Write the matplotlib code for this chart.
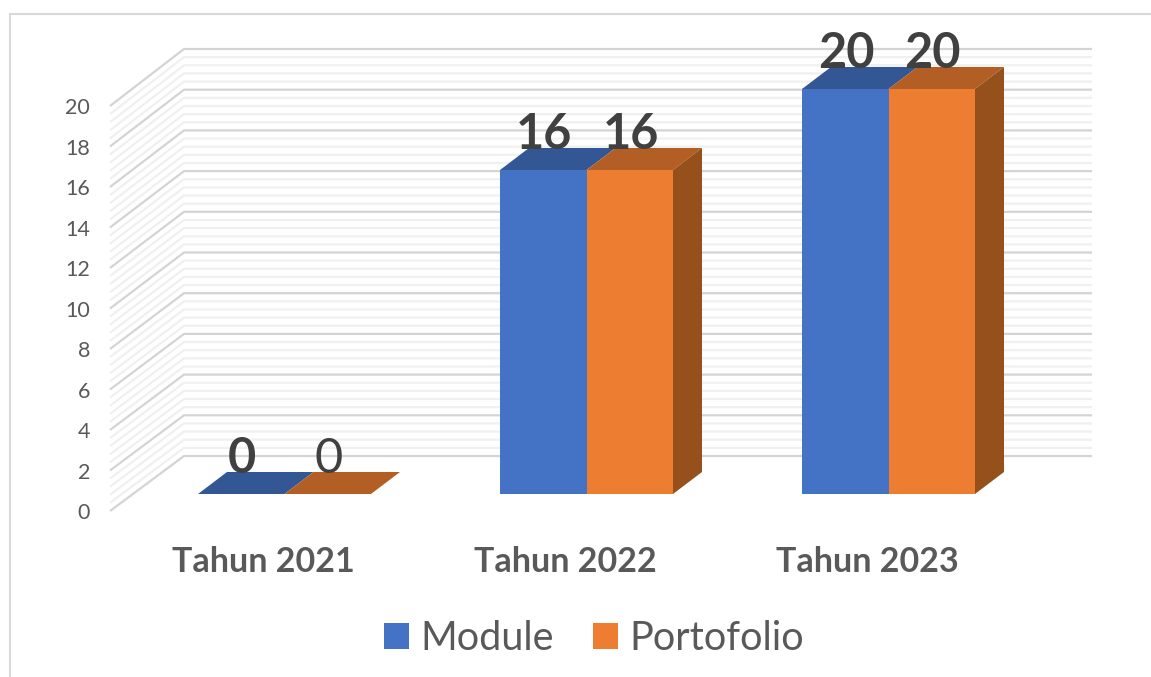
import matplotlib
matplotlib.use('Agg')
import matplotlib.pyplot as plt
import numpy as np
from matplotlib.patches import Patch, Polygon, Rectangle

categories = ['Tahun 2021', 'Tahun 2022', 'Tahun 2023']
module = [0, 16, 20]
portofolio = [0, 16, 20]
y_ticks = [0, 2, 4, 6, 8, 10, 12, 14, 16, 18, 20]

W, H = 1151, 677
PX_X = 302.0    # pixels per category
PX_Y = 20.25    # pixels per unit
X0 = 284.5      # pixel x of category 0
bar_w = 86.5 / PX_X
box_dx, box_dy = 74 / PX_X, 55 / PX_Y    # full depth of the chart box
bar_dx, bar_dy = 29 / PX_X, 22 / PX_Y    # depth of one bar
front_x, front_y = (110 - X0) / PX_X, -17 / PX_Y    # front left corner of the floor
right_x = (1092 - X0) / PX_X
back_scale = 20.35 / PX_Y    # back wall comes out slightly taller

plt.rcParams['font.family'] = ['Lato', 'DejaVu Sans']
fig = plt.figure(figsize=(W / 100, H / 100), dpi=100)
ax = fig.add_axes([0, 0, 1, 1])
# category 0 sits at pixel x X0, value 0 at pixel y 494
ax.set_xlim(-X0 / PX_X, (W - X0) / PX_X)
ax.set_ylim(-(H - 494) / PX_Y, 494 / PX_Y)
ax.axis('off')

# outer border, left and top only
border_x = (10 - X0) / PX_X
border_y = (494 - 14) / PX_Y
ax.plot([border_x, border_x], [ax.get_ylim()[0], border_y], color='#d9d9d9', lw=1.5)
ax.plot([border_x, ax.get_xlim()[1]], [border_y, border_y], color='#d9d9d9', lw=1.5)

# walls, minor lines first so the major ones stay on top
levels = np.arange(0, 51) * 0.4
for major in [False, True]:
    for v in levels:
        is_major = abs(v / 2 - round(v / 2)) < 1e-6
        if is_major != major:
            continue
        c = '#d4d4d4' if major else '#f0f0f0'
        back = front_y + box_dy + v * back_scale
        ax.plot([front_x, front_x + box_dx, right_x], [front_y + v, back, back],
                color=c, lw=1.6, solid_capstyle='butt', zorder=1)

for t in y_ticks:
    ax.text(front_x - 20 / PX_X, front_y + t - 2 / PX_Y, str(t), ha='right', va='center',
            fontsize=15.5, color='#595959')

# bars
series = [(module, -1, '#4472c4', '#335694'),
          (portofolio, 0, '#ed7d31', '#b35e24')]
side = '#96501c'
for vals, off, face, top in series:
    for i, v in enumerate(vals):
        x0 = i + off * bar_w
        x1 = x0 + bar_w
        ax.add_patch(Polygon([(x0, v), (x1, v), (x1 + bar_dx, v + bar_dy), (x0 + bar_dx, v + bar_dy)],
                             closed=True, fc=top, ec='none', zorder=3))
        if v > 0:
            ax.add_patch(Rectangle((x0, 0), bar_w, v, fc=face, ec='none', zorder=4))
            if off == 0:
                ax.add_patch(Polygon([(x1, 0), (x1 + bar_dx, bar_dy), (x1 + bar_dx, v + bar_dy), (x1, v)],
                                     closed=True, fc=side, ec='none', zorder=3))

# data labels, the last zero is not bold in the original
for vals, off, name in [(module, -1, 'module'), (portofolio, 0, 'portofolio')]:
    for i, v in enumerate(vals):
        weight = 'normal' if (v == 0 and name == 'portofolio') else 'bold'
        ax.text(i + (off + 0.5) * bar_w + 1 / PX_X, v + 1.05, str(v),
                ha='center', va='baseline', fontsize=35, fontweight=weight, color='#404040', zorder=6)

# category labels
for i, c in enumerate(categories):
    ax.text(i - 21 / PX_X, -68 / PX_Y, c, ha='center', va='center',
            fontsize=24.5, fontweight='bold', color='#595959')

handles = [Patch(fc='#4472c4', label='Module'), Patch(fc='#ed7d31', label='Portofolio')]
ax.legend(handles=handles, loc='center', bbox_to_anchor=(594 / W, 1 - 638 / H), ncol=2,
          frameon=False, fontsize=28.5, labelcolor='#595959', handlelength=0.63, handleheight=0.63,
          handletextpad=0.28, columnspacing=1.0, borderpad=0, borderaxespad=0)

fig.savefig('out.png', dpi=100)
